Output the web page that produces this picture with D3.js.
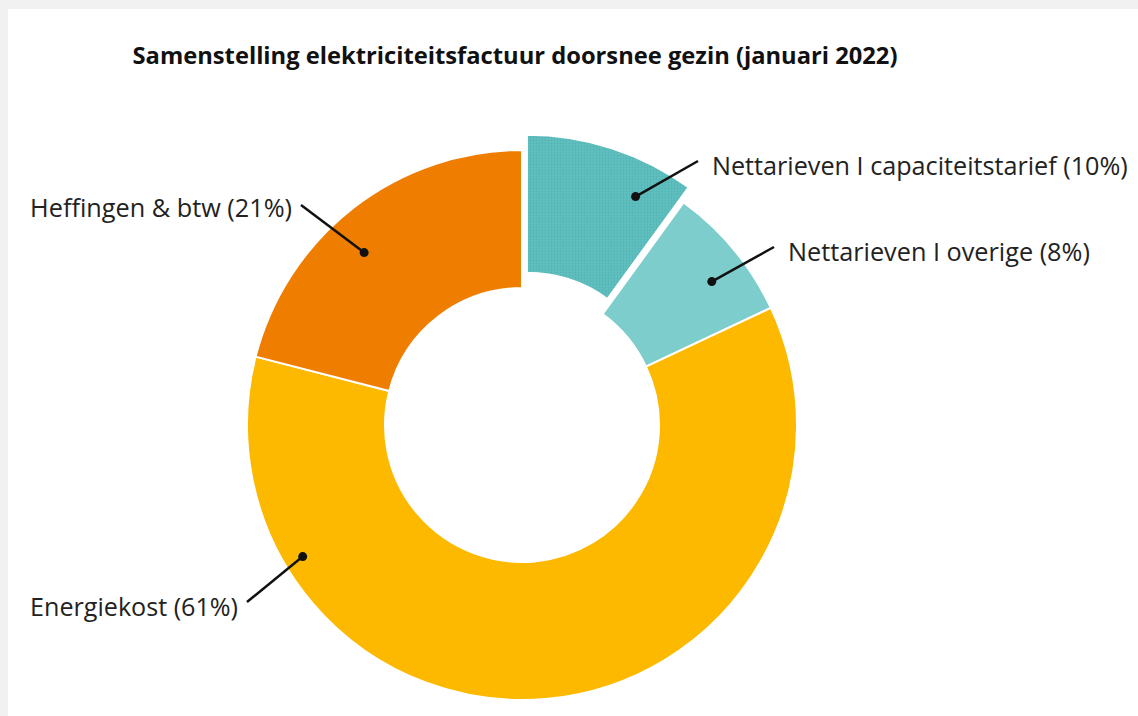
<!DOCTYPE html>
<html>
<head>
<meta charset="utf-8">
<script src="https://cdn.jsdelivr.net/npm/d3@7"></script>
<style>
  html, body { margin: 0; padding: 0; background: #f1f1f1; }
  svg { display: block; }
</style>
</head>
<body>
<svg id="chart" width="1138" height="716"></svg>
<script>
// ---- data ----
const title = "Samenstelling elektriciteitsfactuur doorsnee gezin (januari 2022)";
const categories = ["Nettarieven I capaciteitstarief", "Nettarieven I overige", "Energiekost", "Heffingen & btw"];
const values = [10, 8, 61, 21];
const colors = ["#5cbcbc", "#7ecdcd", "#fdb900", "#ef7d00"];
const exploded = [true, false, false, false];

// annotation layout (leader dot angle as fraction of turn, radius fraction; label anchor)
const dotAngle = [0.075, 0.147, 0.664, 0.882];
const dotRadius = [0.87, 0.865, 0.93, 0.85];
const labelPos = [[712, 166], [788, 252], [238, 607], [292, 208]];
const labelAnchor = ["start", "start", "end", "end"];
const labelWidth = [416, 302, 208, 262];

const W = 1138, H = 716;
const cx = 522, cy = 425, outerR = 275, innerR = 137, explodeDist = 16;

const svg = d3.select("#chart");
// card
svg.append("rect").attr("x", 8).attr("y", 9).attr("width", W - 8).attr("height", H - 9).attr("fill", "#ffffff");

// pattern for the capaciteit slice
const defs = svg.append("defs");
const pat = defs.append("pattern").attr("id", "dots").attr("patternUnits", "userSpaceOnUse")
  .attr("width", 3).attr("height", 3);
pat.append("rect").attr("width", 3).attr("height", 3).attr("fill", colors[0]);
pat.append("rect").attr("x", 0).attr("y", 0).attr("width", 1).attr("height", 1).attr("fill", "#4fb0b0");
pat.append("rect").attr("x", 1.5).attr("y", 1.5).attr("width", 1).attr("height", 1).attr("fill", "#6cc6c6");

// title
function fit(sel, target) {
  const w = sel.node().getComputedTextLength();
  const fs = parseFloat(sel.attr("font-size"));
  sel.attr("font-size", (fs * target / w).toFixed(2));
}
const t = svg.append("text").attr("x", 515).attr("y", 64).attr("text-anchor", "middle")
  .attr("font-family", "Open Sans, sans-serif").attr("font-weight", "bold").attr("font-size", 20)
  .attr("fill", "#111").text(title);
fit(t, 765);

const data = categories.map((c, i) => ({ cat: c, value: values[i], color: colors[i], exploded: exploded[i], i }));
const pie = d3.pie().value(d => d.value).sort(null);
const arcs = pie(data);
const arc = d3.arc().innerRadius(innerR).outerRadius(outerR);

const g = svg.append("g").attr("transform", `translate(${cx},${cy})`);

function offset(a) {
  if (!a.data.exploded) return [0, 0];
  const mid = (a.startAngle + a.endAngle) / 2;
  return [Math.sin(mid) * explodeDist, -Math.cos(mid) * explodeDist];
}

g.selectAll("path.slice").data(arcs).join("path")
  .attr("class", "slice")
  .attr("d", arc)
  .attr("transform", d => { const o = offset(d); return `translate(${o[0]},${o[1]})`; })
  .attr("fill", d => d.data.i === 0 ? "url(#dots)" : d.data.color)
  .attr("stroke", "#ffffff").attr("stroke-width", 2).attr("stroke-linejoin", "round");

// leaders + labels
arcs.forEach((a, i) => {
  const o = offset(a);
  const ang = dotAngle[i] * 2 * Math.PI;
  const r = dotRadius[i] * outerR;
  const dx = cx + o[0] + Math.sin(ang) * r;
  const dy = cy + o[1] - Math.cos(ang) * r;
  const [lx, ly] = labelPos[i];
  const ex = labelAnchor[i] === "start" ? lx - 14 : lx + 9;
  const ey = i === 3 ? ly - 3 : ly - 5;
  svg.append("line").attr("x1", dx).attr("y1", dy).attr("x2", ex).attr("y2", ey)
    .attr("stroke", "#111").attr("stroke-width", 2.5);
  svg.append("circle").attr("cx", dx).attr("cy", dy).attr("r", 4.5).attr("fill", "#111");
  const txt = svg.append("text").attr("x", lx).attr("y", ly).attr("dy", "0.35em")
    .attr("text-anchor", labelAnchor[i])
    .attr("font-family", "Open Sans, sans-serif").attr("font-size", 20).attr("fill", "#222")
    .text(`${a.data.cat} (${a.data.value}%)`);
  fit(txt, labelWidth[i]);
});
</script>
</body>
</html>
